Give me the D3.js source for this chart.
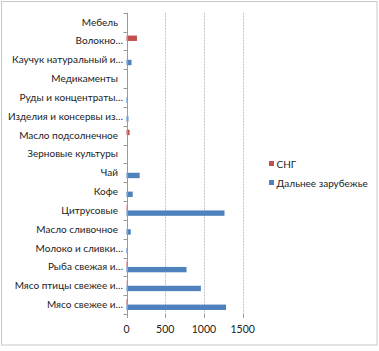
<!DOCTYPE html>
<html><head><meta charset="utf-8">
<script src="https://cdn.jsdelivr.net/npm/d3@7"></script>
<style>body{margin:0;background:#fff}svg{display:block}</style>
</head><body>
<svg id="c" width="379" height="351"></svg>
<script>
const categories = ["Мебель","Волокно…","Каучук натуральный и…","Медикаменты","Руды и концентраты…","Изделия и консервы из…","Масло подсолнечное","Зерновые культуры","Чай","Кофе","Цитрусовые","Масло сливочное","Молоко и сливки…","Рыба свежая и…","Мясо птицы свежее и…","Мясо свежее и…"];
const cis = [0,135,0,0,0,0,40,0,0,0,5,0,0,15,3,15];
const farAbroad = [0,0,65,0,10,25,0,0,170,80,1265,55,10,775,960,1285];
const seriesNames = ["СНГ","Дальнее зарубежье"];
const xTicks = [0,500,1000,1500];
const colors = ["#C0504D","#4F81BD"];

const svg = d3.select("#c");
const font = "Lato, 'Open Sans', sans-serif";
svg.append("rect").attr("x",1.5).attr("y",1.5).attr("width",375.5).attr("height",343.5)
  .attr("fill","#fff").attr("stroke","#c8c8c8");

const x = d3.scaleLinear().domain([0,1500]).range([126.5,242.7]);
const y = d3.scaleBand().domain(categories).range([12.7,314]);
const inner = d3.scaleBand().domain([0,1]).range([0,y.bandwidth()]).paddingInner(0).paddingOuter(0.75);

// gridlines
svg.append("g").selectAll("line").data(xTicks.slice(1)).join("line")
  .attr("x1",d=>Math.round(x(d))+0.5).attr("x2",d=>Math.round(x(d))+0.5)
  .attr("y1",12.7).attr("y2",314).attr("stroke","#c4c4c4").attr("stroke-dasharray","2,1");

// bars
const series = [cis, farAbroad];
series.forEach((vals,si)=>{
  svg.append("g").selectAll("rect").data(categories).join("rect")
    .attr("x",x(0)).attr("y",(d)=>y(d)+inner(si))
    .attr("width",(d,i)=>x(vals[i])-x(0)).attr("height",inner.bandwidth())
    .attr("fill",colors[si]);
});

// left axis
const ya = svg.append("g").attr("transform",`translate(${Math.round(x(0))+0.5},0)`);
ya.append("line").attr("y1",12.7).attr("y2",314).attr("stroke","#9a9a9a");
const bounds = categories.map(c=>y(c)).concat([314]);
ya.selectAll("line.t").data(bounds).join("line").attr("class","t")
  .attr("x1",-4).attr("x2",0).attr("y1",d=>Math.round(d)+0.5).attr("y2",d=>Math.round(d)+0.5).attr("stroke","#9a9a9a");
svg.append("g").selectAll("text").data(categories).join("text")
  .attr("x",d=>d.endsWith("…")?123:118).attr("y",d=>y(d)+y.bandwidth()/2+3.5)
  .attr("text-anchor","end").attr("font-family",font).attr("font-size",10).attr("fill","#222")
  .text(d=>d);

// bottom ticks
svg.append("g").selectAll("line").data(xTicks).join("line")
  .attr("x1",d=>Math.round(x(d))+0.5).attr("x2",d=>Math.round(x(d))+0.5)
  .attr("y1",314).attr("y2",318).attr("stroke","#9a9a9a");
svg.append("g").selectAll("text").data(xTicks).join("text")
  .attr("x",d=>x(d)).attr("y",333).attr("text-anchor","middle")
  .attr("font-family",font).attr("font-size",10.5).attr("fill","#222").text(d=>d);

// legend
const lg = svg.append("g");
seriesNames.forEach((n,i)=>{
  lg.append("rect").attr("x",269).attr("y",161+i*19).attr("width",5).attr("height",5).attr("fill",colors[i]);
  lg.append("text").attr("x",276.5).attr("y",167.5+i*19).attr("font-family",font).attr("font-size",10).attr("fill","#222").text(n);
});
</script>
</body></html>
